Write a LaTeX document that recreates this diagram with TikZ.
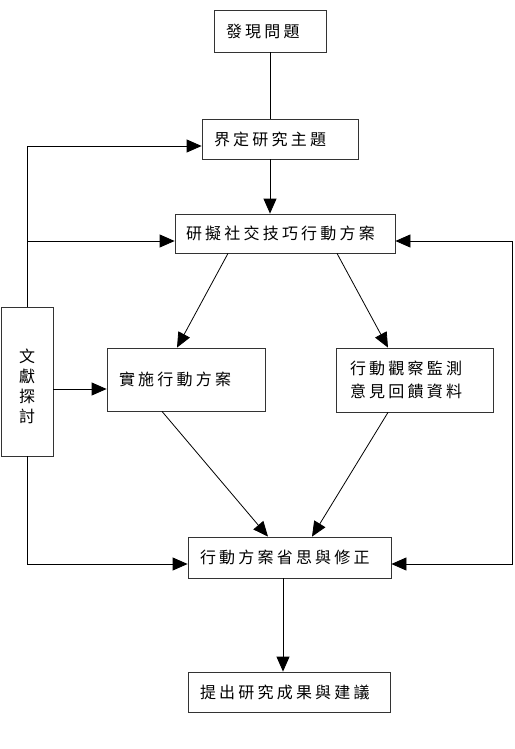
\documentclass[tikz,border=0pt]{standalone}
\usepackage{fontspec}
\newfontfamily\cjk[LetterSpace=20]{Noto Sans CJK TC}
\newfontfamily\cjkv{Noto Sans CJK TC}
\usetikzlibrary{arrows.meta}
\tikzstyle{box}=[rectangle,draw=black!80,line width=0.8pt,inner xsep=12pt,inner ysep=0pt,align=left,font=\cjk\fontsize{16}{23}\selectfont]
\tikzstyle{edge} = [draw,line width=0.8pt,-{Triangle[length=15pt,width=13pt]}]
\tikzstyle{twoway} = [draw,line width=0.8pt,{Triangle[length=15pt,width=13pt]}-{Triangle[length=15pt,width=13pt]}]
\tikzstyle{plain} = [draw,line width=0.8pt]

\begin{document}
\begin{tikzpicture}[x=1pt,y=-1pt]
    \useasboundingbox (0,0) rectangle (514,749);

    % boxes
    \node[box, text width=88pt, minimum height=42pt] (find) at (270,31) {發現問題};
    \node[box, text width=132pt, minimum height=40pt] (topic) at (280,139) {界定研究主題};
    \node[box, text width=198pt, minimum height=39pt, inner xsep=11pt] (plan) at (285,233.5) {研擬社交技巧行動方案};
    \node[box, text width=134pt, minimum height=63pt] (act) at (186,379.5) {實施行動方案};
    \node[box, minimum height=64pt, inner xsep=14pt, text width=129pt] (observe) at (414.5,380) {行動觀察監測\\意見回饋資料};
    \node[box, text width=179pt, minimum height=41pt] (reflect) at (289.5,557.5) {行動方案省思與修正};
    \node[box, text width=178pt, minimum height=40pt] (result) at (289,692) {提出研究成果與建議};
    \node[box, inner xsep=0pt, minimum width=52pt, minimum height=149pt, align=center,
          font=\cjkv\fontsize{16}{20}\selectfont] (lit) at (27,381.5) {\rule{0pt}{0pt}\\[3pt]文\\獻\\探\\討};

    % anchors for the connectors
    \coordinate (topicin) at ([yshift=-7pt]topic.west);
    \coordinate (planin) at ([yshift=-7.5pt]plan.west);
    \coordinate (planinr) at ([yshift=-7.5pt]plan.east);
    \coordinate (actin) at ([yshift=-9.5pt]act.west);
    \coordinate (reflectin) at ([yshift=-6.5pt]reflect.west);
    \coordinate (reflectinr) at ([yshift=-6.5pt]reflect.east);
    \coordinate (loop) at (512,0);

    \coordinate (planL) at ([xshift=-57pt]plan.south);
    \coordinate (planR) at ([xshift=52pt]plan.south);
    \coordinate (actT) at ([xshift=-9pt]act.north);
    \coordinate (obsT) at ([xshift=-26.5pt]observe.north);
    \coordinate (actB) at ([xshift=-24pt]act.south);
    \coordinate (obsB) at ([xshift=-26.5pt]observe.south);
    \coordinate (refL) at ([xshift=-21.5pt]reflect.north);
    \coordinate (refR) at ([xshift=22.5pt]reflect.north);
    \coordinate (refB) at ([xshift=-6.5pt]reflect.south);

    % main flow
    \path[plain] (find.south) -- (find.south |- topic.north);
    \path[edge] (find.south |- topic.south) -- (find.south |- plan.north);

    \foreach \source/ \dest in {planL/actT, planR/obsT, actB/refL, obsB/refR}
        \path[edge] (\source) -- (\dest);

    \path[edge] (refB) -- (refB |- result.north);

    % literature links
    \path[edge] (lit.north) |- (topicin);
    \path[edge] (planin -| lit.north) -- (planin);
    \path[edge] (actin -| lit.east) -- (actin);
    \path[edge] (lit.south) |- (reflectin);

    % feedback loop
    \path[twoway] (reflectinr) -| (loop |- planinr) -- (planinr);

\end{tikzpicture}
\end{document}
